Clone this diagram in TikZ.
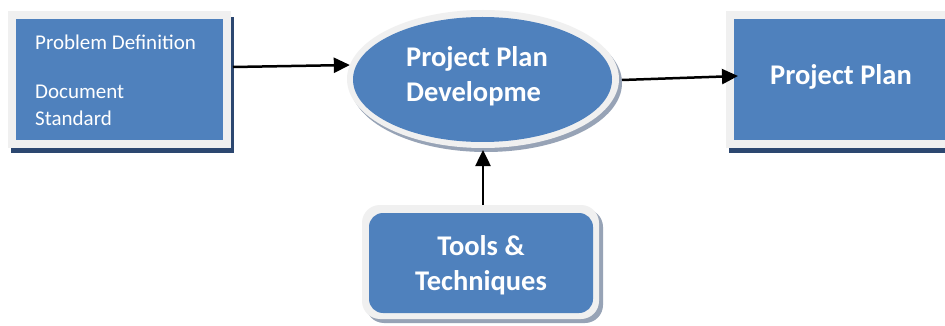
\documentclass[tikz,border=0pt]{standalone}
\usepackage{fontspec}
\setmainfont{Carlito}
\usetikzlibrary{shapes.geometric,arrows.meta,calc}
\definecolor{fillblue}{HTML}{4F81BD}
\definecolor{rimgray}{HTML}{F0F0F0}
\definecolor{shadowblue}{HTML}{2C4770}
\definecolor{shadowgray}{HTML}{97A3B6}
\begin{document}
\begin{tikzpicture}[x=1pt,y=-1pt,
  rim/.style={fill=rimgray,draw=none,inner sep=0pt,outer sep=0pt},
  face/.style={fill=fillblue,draw=none,inner sep=0pt,outer sep=0pt},
  smalltext/.style={text=white,inner sep=0pt,font=\fontsize{21}{28}\selectfont},
  bigtext/.style={text=white,inner sep=0pt,font=\fontsize{28.5}{35}\selectfont\bfseries},
  arr/.style={line width=2.5pt,-{Triangle[length=16pt,width=15pt]}}]
\useasboundingbox (0,0) rectangle (945,326);
\fill[white] (0,0) rectangle (945,326);
% left box
\fill[shadowblue] (11,17) rectangle (234,153);
\node[rim,rectangle,minimum width=223pt,minimum height=137pt,anchor=north west] (lrim) at (8,11) {};
\node[face,rectangle,minimum width=207pt,minimum height=121pt,anchor=north west] (lbox) at (16,19) {};
\node[smalltext,anchor=base west,align=left] (ltext) at (35,126) {Problem Definition\\[21pt]Document\\Standard};
% ellipse
\fill[shadowgray] (486,83) ellipse [x radius=136pt, y radius=69pt];
\node[rim,ellipse,minimum width=272pt,minimum height=138pt] (erim) at (483,79) {};
\node[face,ellipse,minimum width=259pt,minimum height=125pt] (ell) at (482.5,79.5) {};
\node[bigtext,anchor=base west,align=left] (etext) at (406,102) {Project Plan\\Developme};
% right box
\fill[shadowblue] (729,17) rectangle (960,153);
\node[rim,rectangle,minimum width=234pt,minimum height=137pt,anchor=north west] (rrim) at (726,11) {};
\node[face,rectangle,minimum width=226pt,minimum height=121pt,anchor=north west] (rbox) at (734,19) {};
\node[bigtext,anchor=base] (rtext) at (841,85) {Project Plan};
% bottom rounded box
\fill[shadowgray,rounded corners=18pt] (366,209) rectangle (603,323);
\node[rim,rectangle,rounded corners=18pt,minimum width=237pt,minimum height=114pt,anchor=north west] (brim) at (362,205) {};
\node[face,rectangle,rounded corners=14pt,minimum width=224pt,minimum height=100pt,anchor=north west] (bbox) at (369,213) {};
\node[bigtext,anchor=base,align=center] (btext) at (481,290) {Tools \&\\Techniques};
% arrows
\draw[arr] ($(lrim.east)+(2,-12.5)$) -- (erim.174);
\draw[arr] ($(erim.east)+(3,1)$) -- ($(rbox.west)+(4,-3.5)$);
\draw[arr] (brim.north -| erim.south) -- ($(erim.south)+(0,2)$);
\end{tikzpicture}
\end{document}
